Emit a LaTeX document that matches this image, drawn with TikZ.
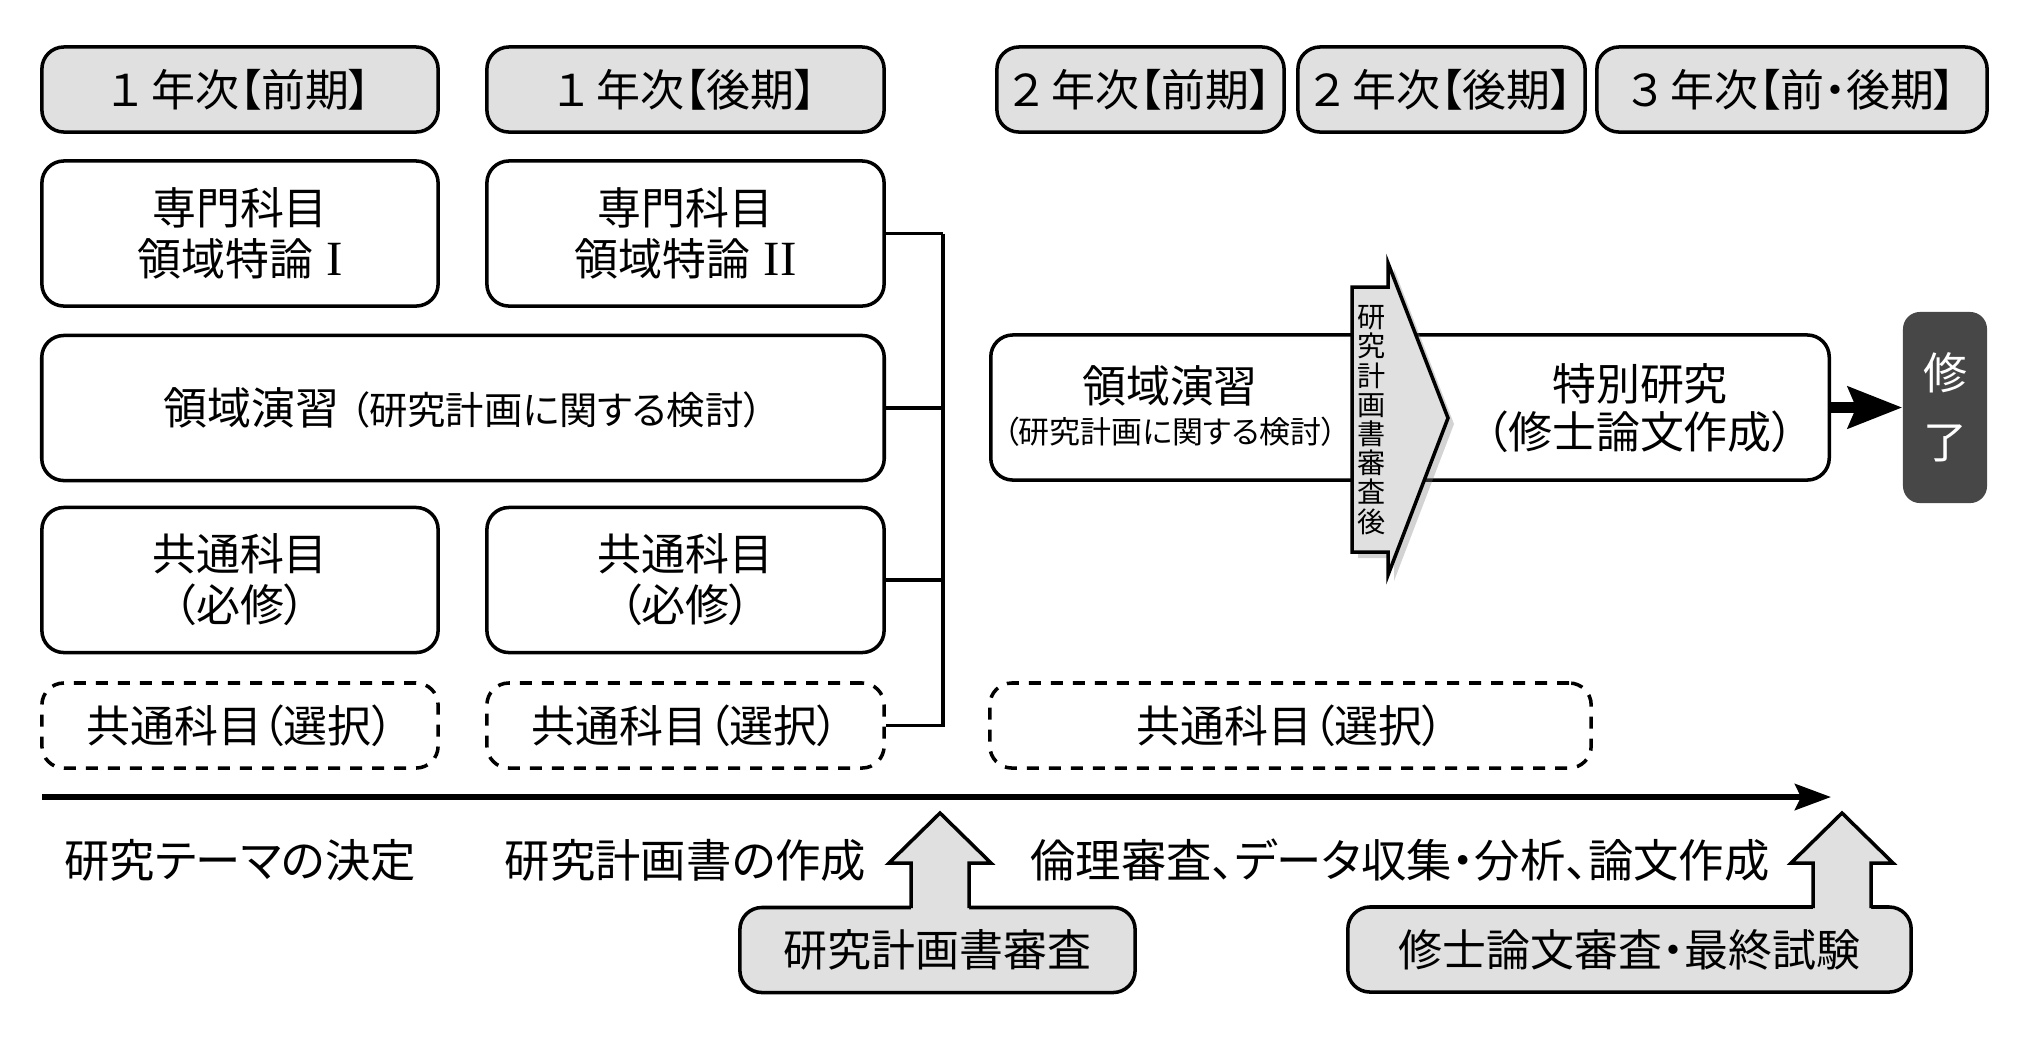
\documentclass[tikz,border=0pt]{standalone}
\usepackage{fontspec}
\setmainfont[RawFeature=+palt]{Noto Sans CJK JP}
\newfontfamily\romfont{Liberation Serif}
\usetikzlibrary{arrows.meta,shadows}
\definecolor{boxgray}{gray}{0.88}
\definecolor{fingray}{HTML}{474747}
\tikzset{base/.style={draw,line width=1pt,rounded corners=0.22cm,inner sep=0pt,align=center,font=\fontsize{12.5}{14.5}\selectfont}}
\tikzset{hdr/.style={base,fill=boxgray,minimum height=0.85cm}}
\tikzset{subj/.style={base,minimum height=1.45cm}}
\tikzset{opt/.style={base,dash pattern=on 0.12cm off 0.1cm,minimum height=0.85cm}}
\tikzset{rev/.style={base,fill=boxgray,minimum height=0.85cm}}
\tikzset{lbl/.style={inner sep=0pt,align=center,font=\fontsize{12.5}{13.5}\selectfont}}
\tikzset{step lbl/.style={lbl,font=\fontsize{12.9}{13.5}\selectfont}}
\tikzset{conn/.style={line width=1pt}}
\tikzset{chev/.style={draw,fill=boxgray,line width=1pt,drop shadow={shadow xshift=0.06cm,shadow yshift=-0.06cm,opacity=0.35}}}
\tikzset{fin/.style={fill=fingray,rounded corners=0.17cm,inner sep=0pt,minimum width=0.84cm,minimum height=1.91cm,text=white,align=center,font=\fontsize{12.5}{19.5}\selectfont}}
\tikzset{timeline/.style={line width=1.7pt,-{Stealth[length=0.36cm,width=0.26cm,inset=0.06cm]}}}
\tikzset{donearrow/.style={line width=3pt,-{Stealth[length=0.54cm,width=0.41cm,inset=0.08cm]}}}
\newcommand\subnote[2]{{\fontsize{#1}{#1}\selectfont #2}}
\newcommand\yr[1]{#1\kern0.2em}
\newcommand\rom[1]{\kern0.3em{\romfont\fontsize{14}{14}\selectfont #1}}

\begin{document}
\begin{tikzpicture}[x=0.01cm,y=-0.01cm]
  \useasboundingbox (0,0) rectangle (2030,1041);

  % year headers
  \node[hdr,minimum width=3.96cm] (h1) at (240,89.5) {\yr{１}年次【前期】};
  \node[hdr,minimum width=3.97cm] (h2) at (685.5,89.5) {\yr{１}年次【後期】};
  \node[hdr,minimum width=2.87cm] (h3) at (1140.5,89.5) {\yr{２}年次【前期】};
  \node[hdr,minimum width=2.87cm] (h4) at (1441.5,89.5) {\yr{２}年次【後期】};
  \node[hdr,minimum width=3.90cm] (h5) at (1792,89.5) {\yr{３}年次【前・後期】};

  % first year
  \node[subj,minimum width=3.96cm] (s1) at (240,233.5) {専門科目\\領域特論\rom{I}};
  \node[subj,minimum width=3.97cm] (s2) at (685.5,233.5) {専門科目\\領域特論\rom{II}};
  \node[subj,minimum width=8.42cm] (e1) at (463,408) {領域演習\hspace{0.25em}\subnote{10.9}{（研究計画に関する検討）}};
  \node[subj,minimum width=3.96cm] (c1) at (240,580) {共通科目\\（必修）};
  \node[subj,minimum width=3.97cm] (c2) at (685.5,580) {共通科目\\（必修）};
  \node[opt,minimum width=3.96cm] (d1) at (240,725.5) {共通科目（選択）};
  \node[opt,minimum width=3.97cm] (d2) at (685.5,725.5) {共通科目（選択）};
  \node[opt,minimum width=6.01cm] (d3) at (1290.5,725.5) {共通科目（選択）};

  \coordinate (bus) at (943,0);
  \foreach \n in {s2,e1,c2}{
    \draw[conn] (\n.east) -- (\n.east -| bus);
  }
  \draw[conn] (s2.east -| bus) |- (d2.east);

  % second and third year
  \node[subj,minimum width=8.38cm] (prog) at (1410,407.5) {};
  \node[lbl] (ens2) at (1170,386) {領域演習};
  \node[lbl] (ens2n) at (1170,432) {\subnote{8.8}{（研究計画に関する検討）}};
  \node[lbl] (tok) at (1640,408) {特別研究\\（修士論文作成）};

  \filldraw[chev] (1352,287) -- (1388,287) -- (1388,263) -- (1448,418)
    -- (1388,575) -- (1388,552) -- (1352,552) -- cycle;
  \node[lbl,font=\fontsize{8}{8.3}\selectfont] (chevtxt) at (1372,420) {研\\究\\計\\画\\書\\審\\査\\後};

  \node[fin] (fin) at (1945,407.5) {修\\了};
  \draw[donearrow] (prog.east) -- (fin.west);

  % time line
  \coordinate (tl0) at (42,797);
  \coordinate (tl1) at (1831,797);
  \draw[timeline] (tl0) -- (tl1);

  \node[step lbl] (p1) at (240,860) {研究テーマの決定};
  \node[step lbl] (p2) at (685.5,860) {研究計画書の作成};
  \node[step lbl] (p3) at (1400,860) {倫理審査、データ収集・分析、論文作成};

  % reviews
  \node[rev,minimum width=3.95cm] (r1) at (937.5,950) {研究計画書審査};
  \node[rev,minimum width=5.63cm] (r2) at (1629.5,949.5) {修士論文審査・最終試験};
  \foreach \ax in {940,1842}{
    \fill[boxgray] (\ax-29,912) -- (\ax-29,863) -- (\ax-51,863) -- (\ax,813)
      -- (\ax+51,863) -- (\ax+29,863) -- (\ax+29,912) -- cycle;
    \draw[conn] (\ax-29,908) -- (\ax-29,863) -- (\ax-51,863) -- (\ax,813)
      -- (\ax+51,863) -- (\ax+29,863) -- (\ax+29,908);
  }
\end{tikzpicture}
\end{document}
